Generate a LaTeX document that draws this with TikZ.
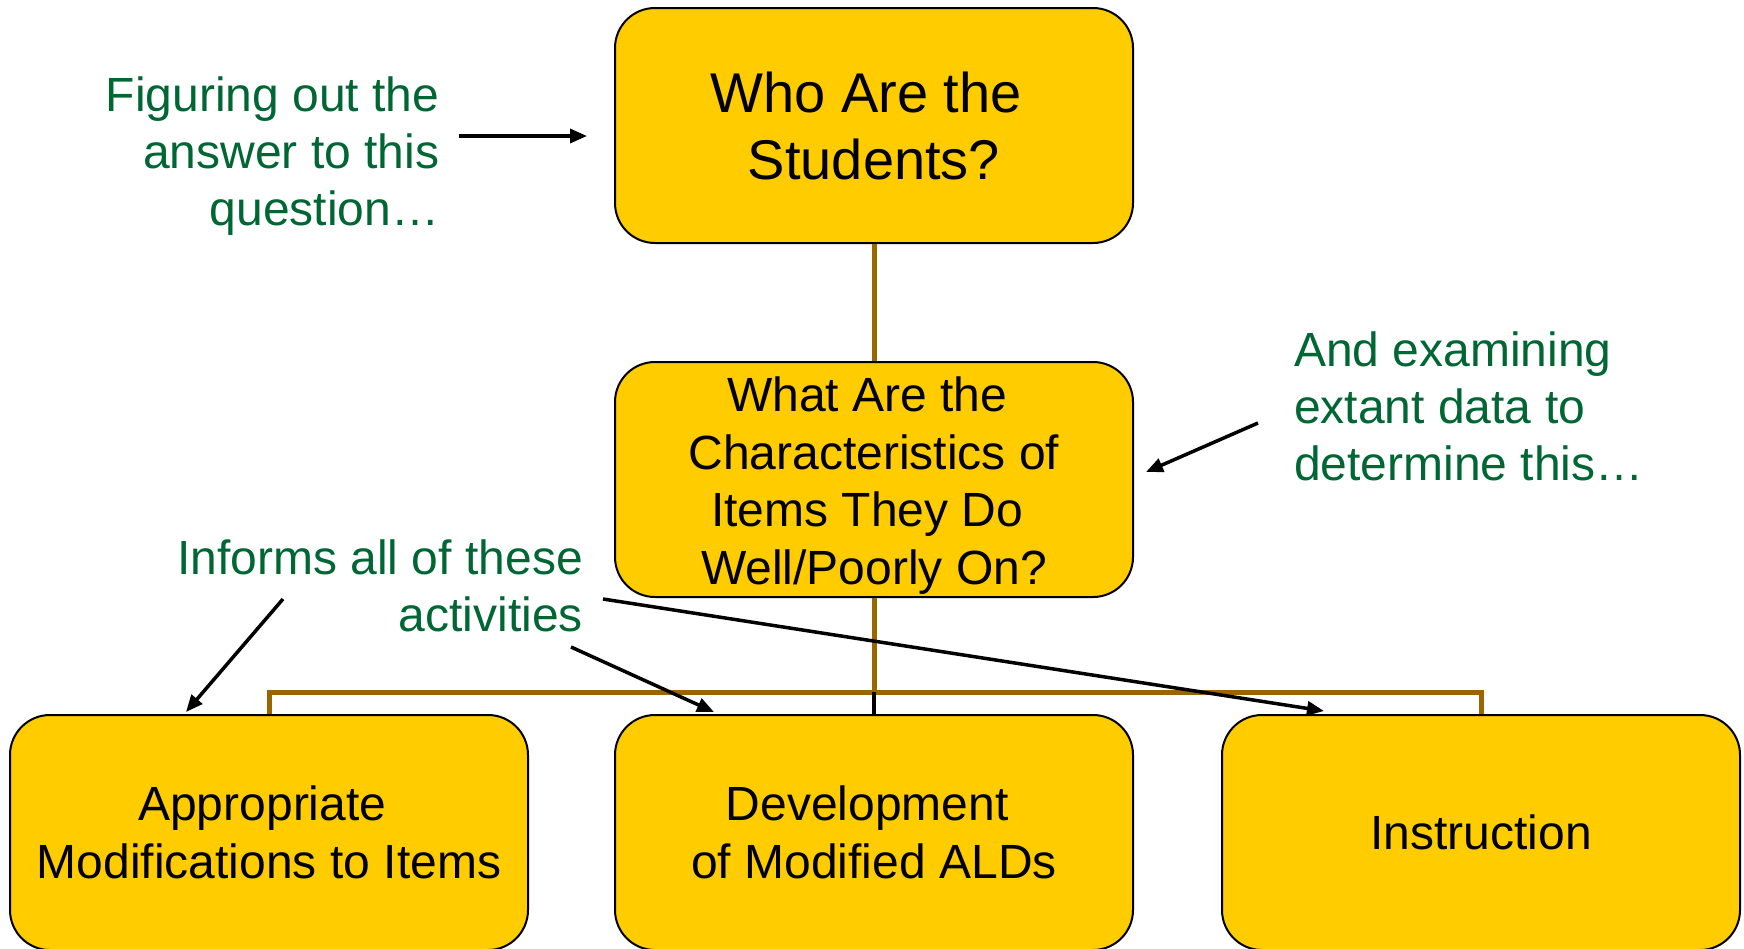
\documentclass[tikz,border=0pt]{standalone}
\usepackage{fontspec}
\setmainfont{Liberation Sans}
\usetikzlibrary{arrows.meta}
\definecolor{boxfill}{HTML}{FFCC00}
\definecolor{notegreen}{HTML}{006633}
\definecolor{linkbrown}{HTML}{996600}
% a space kept at the end of a wrapped line
\newcommand{\trailsp}{\kern0.278em}

\begin{document}
\begin{tikzpicture}[x=1pt,y=-1pt,
  card/.style={draw=black, line width=2pt, fill=boxfill, rounded corners=40pt,
    minimum width=518pt, minimum height=235pt, align=center, inner sep=0pt,
    font=\fontsize{48}{57.5}\selectfont},
  note/.style={text=notegreen, inner sep=0pt, font=\fontsize{48}{57}\selectfont},
  link/.style={draw=linkbrown, line width=5pt},
  stem/.style={draw=black, line width=4pt},
  pointer/.style={draw=black, line width=3.5pt, -{Triangle[length=17pt,width=14pt]}},
]
\useasboundingbox (0,0) rectangle (1744,948);
\fill[white] (0,0) rectangle (1744,948);
\clip (0,0) rectangle (1744,948);

% boxes of the hierarchy
\node[card, font=\fontsize{56}{67}\selectfont] (who) at (874,125.5) {Who Are the\trailsp\\Students?};
\node[card] (items) at (874,479.5) {\rule{0pt}{47pt}What Are the\trailsp\\Characteristics of\\Items They Do\trailsp\\Well/Poorly On?};
\node[card] (mods) at (269,832.5) {Appropriate\trailsp\\Modifications to Items};
\node[card] (alds) at (874,832.5) {Development\trailsp\\of Modified ALDs};
\node[card] (instr) at (1481,832.5) {Instruction};

% tree connectors
\coordinate (bar) at (874,692);
\draw[link] (who.south) -- (items.north);
\draw[link] (items.south) -- (bar);
\draw[link] (bar) -| (mods.north);
\draw[link] (bar) -| (instr.north);
\draw[stem] (bar) -- (alds.north);

% side notes
\node[note, anchor=north east, align=right] (n1) at (439.5,77)
  {Figuring out the\\answer to this\\question…};
\node[note, anchor=north west, align=left] (n2) at (1294,332)
  {And examining\\extant data to\\determine this…};
\node[note, anchor=north east, align=right] (n3) at (583,540)
  {Informs all of these\\activities};

% pointers from the notes
\coordinate (p1s) at (459,136);  \coordinate (p1e) at (587,136);
\coordinate (p2s) at (1258,423); \coordinate (p2e) at (1146,472);
\coordinate (p3s) at (283,599);  \coordinate (p3e) at (186,712);
\coordinate (p4s) at (571,647);  \coordinate (p4e) at (714,712);
\coordinate (p5s) at (603,599);  \coordinate (p5e) at (1324,711);
\draw[pointer] (p1s) -- (p1e);
\draw[pointer] (p2s) -- (p2e);
\draw[pointer] (p3s) -- (p3e);
\draw[pointer] (p4s) -- (p4e);
\draw[pointer] (p5s) -- (p5e);
\end{tikzpicture}
\end{document}
